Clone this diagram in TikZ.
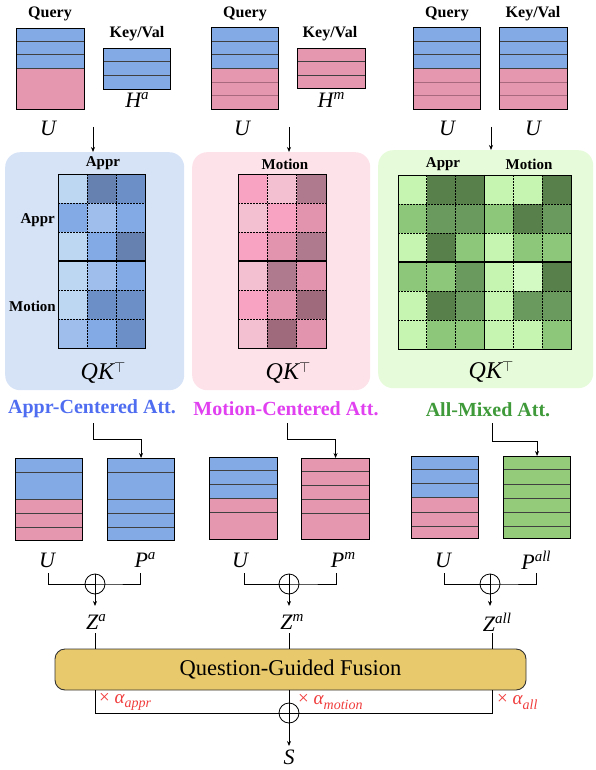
\documentclass[tikz,border=0pt]{standalone}
\usepackage{fontspec}
\setmainfont{Liberation Serif}
\usetikzlibrary{arrows.meta}
\definecolor{qblue}{HTML}{84AAE6}
\definecolor{qpink}{HTML}{E597AF}
\definecolor{qgreen}{HTML}{93CB7A}
\definecolor{pinkline}{HTML}{A8687E}
\definecolor{gbA}{HTML}{BDD7F3}
\definecolor{gbB}{HTML}{A0BEEB}
\definecolor{gbC}{HTML}{84AAE6}
\definecolor{gbD}{HTML}{6D8FC8}
\definecolor{gbE}{HTML}{6680B0}
\definecolor{gpA}{HTML}{F3C0D2}
\definecolor{gpB}{HTML}{F9A3C3}
\definecolor{gpC}{HTML}{E294AE}
\definecolor{gpD}{HTML}{B07A8E}
\definecolor{gpE}{HTML}{9E6A7C}
\definecolor{ggZ}{HTML}{D2FAC2}
\definecolor{ggA}{HTML}{C5F5B0}
\definecolor{ggB}{HTML}{8CC77A}
\definecolor{ggC}{HTML}{6A9A5E}
\definecolor{ggD}{HTML}{58804A}
\definecolor{panA}{HTML}{D6E3F6}
\definecolor{panB}{HTML}{FDE2EA}
\definecolor{panC}{HTML}{E6FBD9}
\definecolor{fusC}{HTML}{E8C96B}
\definecolor{attA}{HTML}{4F6DF0}
\definecolor{attB}{HTML}{E040F0}
\definecolor{attC}{HTML}{3F9A3A}
\definecolor{alphaC}{HTML}{F03C3C}
\newcommand\heatgrid[6]{%
  \foreach \c [count=\i from 0] in {#6} {
    \pgfmathtruncatemacro\cc{mod(\i,#5)}
    \pgfmathtruncatemacro\rr{int(\i/#5)}
    \fill[\c] ({#1+\cc*#3},{#2+\rr*#4}) rectangle ++(#3,#4);
  }}
\newcommand\supx[1]{\raisebox{0.36em}{\fontsize{15}{15}\selectfont #1}}
\newcommand\subx[1]{\raisebox{-0.25em}{\fontsize{14}{14}\selectfont\itshape #1}}
\newcommand\qkt{{\itshape QK}\raisebox{0.3em}{\fontsize{15}{15}\selectfont$\top$}}
\begin{document}
\begin{tikzpicture}[x=1pt,y=-1pt,
  blk/.style={draw=black,line width=1.1pt,inner sep=0pt,anchor=north west},
  stripe/.style={draw=black!75,line width=0.7pt},
  pstripe/.style={draw=pinkline,line width=0.6pt},
  hdr/.style={font=\bfseries\fontsize{16}{16}\selectfont,inner sep=0pt},
  glbl/.style={font=\bfseries\fontsize{15}{15}\selectfont,inner sep=0pt},
  var/.style={font=\itshape\fontsize{22}{22}\selectfont,inner sep=0pt},
  qk/.style={font=\fontsize{24}{24}\selectfont,inner sep=0pt},
  att/.style={font=\bfseries\fontsize{20}{20}\selectfont,inner sep=0pt},
  panel/.style={rounded corners=15pt,inner sep=0pt,anchor=north west},
  gridbox/.style={draw=black,line width=1.1pt,inner sep=0pt,anchor=north west},
  dots/.style={line width=0.8pt,dash pattern=on 1.5pt off 1.5pt},
  arr/.style={-{Stealth[length=5pt,width=4pt]},line width=0.8pt},
  conn/.style={line width=0.8pt},
  oplus/.style={circle,draw,line width=0.8pt,minimum size=20pt,inner sep=0pt},
  alab/.style={font=\fontsize{19}{19}\selectfont,text=alphaC,inner sep=0pt,anchor=west}]
\useasboundingbox (0,0) rectangle (596,770);

% ---------- top row ----------
\node[hdr] (lq1) at (50,14) {Query};
\fill[qblue] (16,28) rectangle (84,68);
\fill[qpink] (16,68) rectangle (84,109);
\draw[stripe] (16,41) -- (84,41) (16,54) -- (84,54) (16,68) -- (84,68);
\node[blk,minimum width=68pt,minimum height=81pt] (q1) at (16,28) {};
\node[var] (u1) at (48,128) {U};

\node[hdr] (lk1) at (137,34) {Key/Val};
\fill[qblue] (103,48) rectangle (170,89);
\draw[stripe] (103,61) -- (170,61) (103,75) -- (170,75);
\node[blk,minimum width=67pt,minimum height=41pt] (ha) at (103,48) {};
\node[var] (hal) at (137,100) {H\supx{a}};

\node[hdr] (lq2) at (245,14) {Query};
\fill[qblue] (211,27) rectangle (278,68);
\fill[qpink] (211,68) rectangle (278,109);
\draw[stripe] (211,41) -- (278,41) (211,54) -- (278,54) (211,68) -- (278,68);
\draw[pstripe] (211,82) -- (278,82) (211,95) -- (278,95);
\node[blk,minimum width=67pt,minimum height=82pt] (q2) at (211,27) {};
\node[var] (u2) at (242,128) {U};

\node[hdr] (lk2) at (330,34) {Key/Val};
\fill[qpink] (297,48) rectangle (365,88);
\draw[stripe] (297,61) -- (365,61) (297,75) -- (365,75);
\node[blk,minimum width=68pt,minimum height=40pt] (hm) at (297,48) {};
\node[var] (hml) at (331,100) {H\supx{m}};

\node[hdr] (lq3) at (447,14) {Query};
\fill[qblue] (413,27) rectangle (480,68);
\fill[qpink] (413,68) rectangle (480,109);
\draw[stripe] (413,41) -- (480,41) (413,54) -- (480,54) (413,68) -- (480,68);
\draw[pstripe] (413,82) -- (480,82) (413,95) -- (480,95);
\node[blk,minimum width=67pt,minimum height=82pt] (q3) at (413,27) {};
\node[var] (u3) at (447,128) {U};

\node[hdr] (lk3) at (533,14) {Key/Val};
\fill[qblue] (499,27) rectangle (567,68);
\fill[qpink] (499,68) rectangle (567,109);
\draw[stripe] (499,41) -- (567,41) (499,54) -- (567,54) (499,68) -- (567,68);
\draw[pstripe] (499,82) -- (567,82) (499,95) -- (567,95);
\node[blk,minimum width=68pt,minimum height=82pt] (k3) at (499,27) {};
\node[var] (u4) at (533,128) {U};

% ---------- panels ----------
\node[panel,fill=panA,minimum width=179pt,minimum height=238pt] (p1) at (5,152) {};
\node[panel,fill=panB,minimum width=178pt,minimum height=238pt] (p2) at (192,152) {};
\node[panel,fill=panC,minimum width=215pt,minimum height=238pt] (p3) at (378,150) {};

\coordinate (t1) at (93,127);
\coordinate (t2) at (289,127);
\coordinate (t3) at (491,127);
\draw[arr] (t1) -- (t1 |- p1.north);
\draw[arr] (t2) -- (t2 |- p2.north);
\draw[arr] (t3) -- (t3 |- p3.north);

% grid 1
\heatgrid{58}{174}{29}{29}{3}{gbA,gbE,gbD, gbC,gbB,gbC, gbA,gbC,gbE, gbA,gbB,gbC, gbA,gbD,gbD, gbB,gbC,gbD}
\draw[dots] (87,174) -- (87,348) (116,174) -- (116,348);
\draw[dots] (58,203) -- (145,203) (58,232) -- (145,232) (58,290) -- (145,290) (58,319) -- (145,319);
\draw[line width=1.1pt] (58,261) -- (145,261);
\node[gridbox,minimum width=87pt,minimum height=174pt] (g1) at (58,174) {};
\node[glbl] (g1t) at (103,163) {Appr};
\node[glbl,anchor=east] (g1a) at (55,220) {Appr};
\node[glbl,anchor=east] (g1m) at (56,306) {Motion};
\node[qk] (qk1) at (103,373) {\qkt};

% grid 2
\heatgrid{238}{174}{29.33}{29}{3}{gpB,gpA,gpD, gpA,gpB,gpC, gpB,gpC,gpD, gpA,gpD,gpC, gpB,gpC,gpE, gpA,gpE,gpC}
\draw[dots] (267.3,174) -- (267.3,348) (296.7,174) -- (296.7,348);
\draw[dots] (238,203) -- (326,203) (238,232) -- (326,232) (238,290) -- (326,290) (238,319) -- (326,319);
\draw[line width=1.1pt] (238,261) -- (326,261);
\node[gridbox,minimum width=88pt,minimum height=174pt] (g2) at (238,174) {};
\node[glbl] (g2t) at (285,164) {Motion};
\node[qk] (qk2) at (288,373) {\qkt};

% grid 3
\heatgrid{398}{175}{28.83}{29}{6}{ggA,ggD,ggD,ggA,ggA,ggD, ggB,ggC,ggC,ggB,ggD,ggC, ggA,ggD,ggB,ggA,ggB,ggB, ggB,ggB,ggC,ggA,ggZ,ggD, ggA,ggD,ggC,ggA,ggC,ggC, ggA,ggB,ggB,ggA,ggA,ggB}
\draw[dots] (426.8,175) -- (426.8,349) (455.7,175) -- (455.7,349) (513.3,175) -- (513.3,349) (542.2,175) -- (542.2,349);
\draw[dots] (398,204) -- (571,204) (398,233) -- (571,233) (398,291) -- (571,291) (398,320) -- (571,320);
\draw[line width=1.1pt] (398,262) -- (571,262) (484.5,175) -- (484.5,349);
\node[gridbox,minimum width=173pt,minimum height=174pt] (g3) at (398,175) {};
\node[glbl] (g3a) at (443,164) {Appr};
\node[glbl] (g3m) at (529,164) {Motion};
\node[qk] (qk3) at (491,372) {\qkt};

% ---------- attention labels ----------
\node[att,text=attA] (at1) at (92,409) {Appr-Centered Att.};
\node[att,text=attB] (at2) at (286,409) {Motion-Centered Att.};
\node[att,text=attC] (at3) at (488,410) {All-Mixed Att.};

% ---------- second row of blocks ----------
\fill[qblue] (15,458) rectangle (82,499);
\fill[qpink] (15,499) rectangle (82,540);
\draw[stripe] (15,472) -- (82,472) (15,499) -- (82,499) (15,513) -- (82,513) (15,527) -- (82,527);
\node[blk,minimum width=67pt,minimum height=82pt] (ua) at (15,458) {};

\fill[qblue] (107,458) rectangle (174,540);
\draw[stripe] (107,472) -- (174,472) (107,499) -- (174,499) (107,513) -- (174,513) (107,527) -- (174,527);
\node[blk,minimum width=67pt,minimum height=82pt] (pa) at (107,458) {};

\fill[qblue] (209,457) rectangle (277,498);
\fill[qpink] (209,498) rectangle (277,539);
\draw[stripe] (209,470) -- (277,470) (209,484) -- (277,484) (209,498) -- (277,498) (209,512) -- (277,512);
\node[blk,minimum width=68pt,minimum height=82pt] (um) at (209,457) {};

\fill[qpink] (301,458) rectangle (369,539);
\draw[stripe] (301,471) -- (369,471) (301,485) -- (369,485) (301,499) -- (369,499) (301,513) -- (369,513);
\node[blk,minimum width=68pt,minimum height=81pt] (pm) at (301,458) {};

\fill[qblue] (411,456) rectangle (478,497);
\fill[qpink] (411,497) rectangle (478,538);
\draw[stripe] (411,469) -- (478,469) (411,483) -- (478,483) (411,497) -- (478,497) (411,512) -- (478,512) (411,526) -- (478,526);
\node[blk,minimum width=67pt,minimum height=82pt] (ul) at (411,456) {};

\fill[qgreen] (503,456) rectangle (570,538);
\draw[stripe] (503,469) -- (570,469) (503,484) -- (570,484) (503,498) -- (570,498) (503,512) -- (570,512) (503,526) -- (570,526);
\node[blk,minimum width=67pt,minimum height=82pt] (pl) at (503,456) {};

\coordinate (c1) at (93,423);
\coordinate (c2) at (287,423);
\coordinate (c3) at (492,423);
\draw[arr] (c1) -- ++(0,16) -| (pa.north);
\draw[arr] (c2) -- ++(0,16) -| (pm.north);
\draw[arr] (c3) -- ++(0,18) -| (pl.north);

% ---------- fusion part ----------
\node[var] (u5) at (47,560) {U};
\node[var] (pal) at (145,560) {P\supx{a}};
\node[var] (u6) at (240,560) {U};
\node[var] (pml) at (343,560) {P\supx{m}};
\node[var] (u7) at (443,560) {U};
\node[var] (pll) at (536,560) {P\supx{all}};

\node[oplus] (o1) at (95,584) {};
\node[oplus] (o2) at (289,584) {};
\node[oplus] (o3) at (490,584) {};
\draw[conn] (o1.north) -- (o1.south) (o2.north) -- (o2.south) (o3.north) -- (o3.south);
\draw[conn] (48,573) -- (48,584) -- (o1.west) (o1.west) -- (o1.east) -- (140,584) -- (140,573);
\draw[conn] (244,573) -- (244,584) -- (o2.west) (o2.west) -- (o2.east) -- (336,584) -- (336,573);
\draw[conn] (444,573) -- (444,584) -- (o3.west) (o3.west) -- (o3.east) -- (536,584) -- (536,573);

\node[var] (za) at (96,622) {Z\supx{a}};
\node[var] (zm) at (292,622) {Z\supx{m}};
\node[var] (zl) at (497,622) {Z\supx{all}};
\coordinate (za0) at (95,606);
\coordinate (zm0) at (289,606);
\coordinate (zl0) at (490,606);
\draw[arr] (o1.south) -- (za0);
\draw[arr] (o2.south) -- (zm0);
\draw[arr] (o3.south) -- (zl0);

\node[draw=black!80,line width=0.9pt,fill=fusC,rounded corners=10pt,minimum width=471pt,minimum height=41pt,inner sep=0pt,font=\fontsize{22.5}{22.5}\selectfont] (fus) at (290.5,669.5) {Question-Guided Fusion};

\coordinate (za1) at (95,633);
\coordinate (zm1) at (289,633);
\coordinate (zl1) at (492,633);
\draw[conn] (za1) -- (za1 |- fus.north);
\draw[conn] (zm1) -- (zm1 |- fus.north);
\draw[conn] (zl1) -- (zl1 |- fus.north);

\node[oplus] (o4) at (289,713) {};
\node[var] (s) at (289,757) {S};
\coordinate (s0) at (289,746);
\draw[conn] (za1 |- fus.south) -- (za1 |- o4) -- (o4.west);
\draw[conn] (zl1 |- fus.south) -- (zl1 |- o4) -- (o4.east);
\draw[conn] (o4.west) -- (o4.east);
\draw[conn] (zm1 |- fus.south) -- (o4.south);
\draw[arr] (o4.south) -- (s0);

\node[alab] (al1) at (99,702) {× {\itshape α}\subx{appr}};
\node[alab] (al2) at (298,702) {× {\itshape α}\subx{motion}};
\node[alab] (al3) at (497,702) {× {\itshape α}\subx{all}};
\end{tikzpicture}
\end{document}
